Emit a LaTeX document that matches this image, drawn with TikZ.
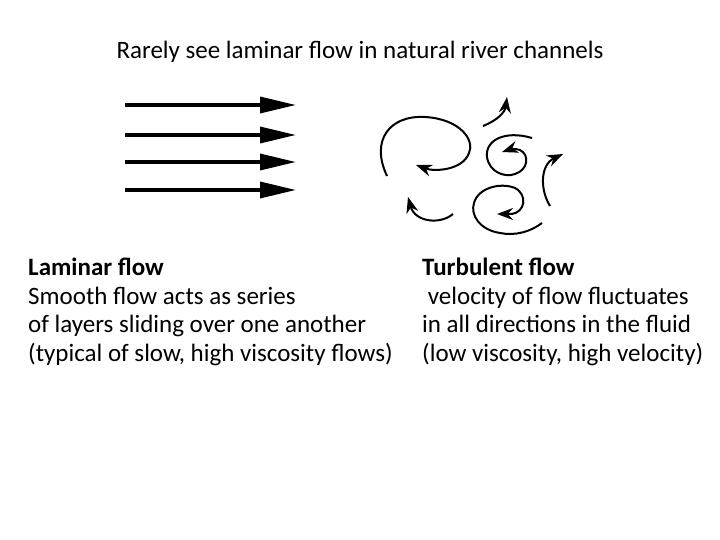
\documentclass[tikz,border=0pt]{standalone}
\usepackage{fontspec}
\setmainfont{Carlito}
\usetikzlibrary{arrows.meta}
\begin{document}
\begin{tikzpicture}[x=1pt,y=-1pt,
  lam/.style={line width=3.5pt,-{Triangle[length=36pt,width=16pt]}},
  sw/.style={line width=2pt,-{Stealth[length=16pt,width=12pt]}},
  txt/.style={font=\fontsize{25}{28.5}\selectfont,align=left,anchor=north west,inner sep=0}]
\useasboundingbox (0,0) rectangle (720,540);
\node[font=\fontsize{25}{28}\selectfont] (title) at (360,52) {Rarely see laminar flow in natural river channels};
\foreach \y/\n in {105/a,135/b,162/c,190/d}{
  \coordinate (s\n) at (125,\y); \coordinate (e\n) at (296,\y);
  \draw[lam] (s\n) -- (e\n);}
% swirl 1
\coordinate (p1) at (387,176);
\draw[sw] (p1) .. controls (370,140) and (390,115) .. (425,117)
  .. controls (460,119) and (475,140) .. (469,153)
  .. controls (463,170) and (435,172) .. (416,165);
% arc 2
\coordinate (p2) at (483,126);
\draw[sw] (p2) .. controls (498,120) and (505,112) .. (507,97);
% swirl 3
\coordinate (p3) at (532,138);
\draw[sw] (p3) .. controls (505,130) and (485,140) .. (487,157)
  .. controls (489,172) and (505,178) .. (515,174)
  .. controls (528,170) and (530,155) .. (520,150)
  .. controls (515,148) and (508,150) .. (502,152);
% arc 4
\coordinate (p4) at (550,206);
\draw[sw] (p4) .. controls (540,190) and (540,165) .. (563,154);
% arc 5
\coordinate (p5) at (453,214);
\draw[sw] (p5) .. controls (440,225) and (415,222) .. (408,197);
% swirl 6
\coordinate (p6) at (542,223);
\draw[sw] (p6) .. controls (530,232) and (515,236) .. (500,233)
  .. controls (480,230) and (470,215) .. (474,203)
  .. controls (478,188) and (500,182) .. (515,188)
  .. controls (528,195) and (525,212) .. (512,214)
  -- (497,214);
\node[txt] (lt) at (28,258) {\textbf{Laminar flow}\\Smooth flow acts as series\\of layers sliding over one another\\(typical of slow, high viscosity flows)};
\node[txt] (rt) at (422,258) {\textbf{Turbulent flow}\\\ velocity of flow fluctuates\\in all directions in the fluid\\(low viscosity, high velocity)};
\end{tikzpicture}
\end{document}
